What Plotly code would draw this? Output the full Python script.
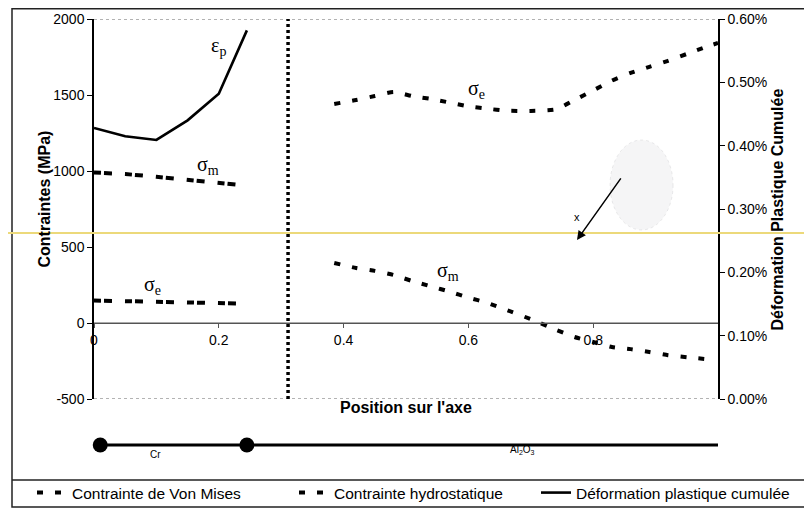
import plotly.graph_objects as go

# positions along the axis (Cr layer and Al2O3 layer)
pos_cr = [0.0, 0.05, 0.10, 0.15, 0.20, 0.245]
pos_al = [0.385, 0.42, 0.45, 0.48, 0.51, 0.54, 0.57, 0.60, 0.63, 0.66, 0.70,
          0.74, 0.77, 0.80, 0.83, 0.86, 0.89, 0.92, 0.95, 0.98, 1.0]

# Von Mises stress (MPa)
von_mises_cr = [148, 145, 142, 138, 133, 127]
von_mises_al = [1441, 1467, 1493, 1520, 1493, 1474, 1450, 1425, 1410, 1397, 1395,
                1405, 1467, 1530, 1595, 1645, 1685, 1725, 1770, 1815, 1842]

# hydrostatic stress (MPa)
hydro_cr = [990, 980, 962, 942, 922, 903]
hydro_al = [395, 362, 343, 316, 276, 241, 206, 167, 133, 88, 25,
            -44, -92, -125, -158, -172, -191, -212, -225, -237, None]

# cumulated plastic strain (fraction)
eps_cr = [0.00428, 0.00415, 0.00409, 0.00440, 0.00482, 0.00582]

# material bar
layer_bounds = [0.01, 0.245, 1.005]
interface_pos = 0.311

# the page body has an 8px margin, so the figure is a bit smaller than the window
OFF = 8
W, H = 812 - OFF, 508 - OFF
ML, MR, MT, MB = 94 - OFF, 94, 19 - OFF, 0


def px_x(px):
    return (px - OFF - ML) / (W - ML - MR)


def px_y(py):
    return (H - MB - (py - OFF)) / (H - MT - MB)


main_bottom = px_y(399)
BLACK = "black"
DASH_AL = "6px,12px"
DASH_CR = "7px,3px,8px,13px"

fig = go.Figure()

fig.add_trace(go.Scatter(x=pos_al, y=von_mises_al, mode="lines", name="Contrainte de Von Mises",
                         line=dict(color=BLACK, width=4, dash=DASH_AL, shape="spline", smoothing=0.5),
                         legend="legend"))
fig.add_trace(go.Scatter(x=pos_cr, y=von_mises_cr, mode="lines", showlegend=False,
                         line=dict(color=BLACK, width=4, dash=DASH_CR)))
fig.add_trace(go.Scatter(x=pos_al, y=hydro_al, mode="lines", name="Contrainte hydrostatique",
                         line=dict(color=BLACK, width=4, dash=DASH_AL, shape="spline", smoothing=0.5),
                         legend="legend2"))
fig.add_trace(go.Scatter(x=pos_cr, y=hydro_cr, mode="lines", showlegend=False,
                         line=dict(color=BLACK, width=4, dash=DASH_CR)))
fig.add_trace(go.Scatter(x=pos_cr, y=eps_cr, mode="lines", name="Déformation plastique cumulée",
                         yaxis="y2", line=dict(color=BLACK, width=2.6), legend="legend3"))

# material bar below the plot
fig.add_trace(go.Scatter(x=layer_bounds, y=[0] * len(layer_bounds), mode="lines+markers",
                         xaxis="x3", yaxis="y3", showlegend=False, cliponaxis=False,
                         line=dict(color=BLACK, width=3), marker=dict(color=BLACK, size=15)))

tick_font = dict(family="Liberation Sans, Arial", size=14, color=BLACK)
title_font = dict(family="Liberation Sans, Arial", size=16, color=BLACK)
greek_font = dict(family="Liberation Serif, Times New Roman", size=20, color=BLACK)
legend_font = dict(family="Liberation Sans, Arial", size=15.5, color=BLACK)

fig.update_layout(
    width=W, height=H,
    margin=dict(l=ML, r=MR, t=MT, b=MB, autoexpand=False),
    paper_bgcolor="white", plot_bgcolor="white",
    xaxis=dict(range=[0, 1], domain=[0, 1], anchor="free", position=px_y(323),
               tickvals=[0, 0.2, 0.4, 0.6, 0.8], ticktext=["0", "0.2", "0.4", "0.6", "0.8"],
               showline=True, linecolor="#555", linewidth=1, ticks="outside", ticklen=4,
               tickcolor="#555", showgrid=False, zeroline=False, tickfont=tick_font),
    yaxis=dict(range=[-500, 2000], domain=[main_bottom, 1], tickvals=[-500, 0, 500, 1000, 1500, 2000],
               ticktext=["-500", "0", "500", "1000", "1500", "2000"],
               showline=True, linecolor=BLACK, linewidth=1.5, ticks="outside", ticklen=5,
               tickcolor=BLACK, showgrid=False, zeroline=False, tickfont=tick_font),
    yaxis2=dict(range=[0, 0.006], overlaying="y", side="right", anchor="x", tickformat=".2%",
                tickvals=[0, 0.001, 0.002, 0.003, 0.004, 0.005, 0.006],
                showline=True, linecolor=BLACK, linewidth=1.5, ticks="outside", ticklen=5,
                tickcolor=BLACK, showgrid=False, zeroline=False, tickfont=tick_font),
    xaxis3=dict(range=[0, 1], domain=[0, 1], anchor="y3", visible=False),
    yaxis3=dict(range=[-1, 1], domain=[px_y(458), px_y(432)], anchor="x3", visible=False),
    legend=dict(x=px_x(32), y=px_y(493), xanchor="left", yanchor="middle",
                orientation="h", bgcolor="rgba(0,0,0,0)", font=legend_font),
    legend2=dict(x=px_x(294), y=px_y(493), xanchor="left", yanchor="middle",
                 orientation="h", bgcolor="rgba(0,0,0,0)", font=legend_font),
    legend3=dict(x=px_x(536), y=px_y(493), xanchor="left", yanchor="middle",
                 orientation="h", bgcolor="rgba(0,0,0,0)", font=legend_font),
)

# zero line, plot area dotted top / bottom borders and interface line
fig.add_shape(type="line", xref="x domain", yref="y", x0=0, x1=1, y0=0, y1=0,
              line=dict(color="#555", width=1))
fig.add_shape(type="line", xref="x domain", yref="y", x0=0, x1=1, y0=2000, y1=2000,
              line=dict(color="#666", width=1, dash="dot"))
fig.add_shape(type="line", xref="x domain", yref="y", x0=0, x1=1, y0=-500, y1=-500,
              line=dict(color="#666", width=1, dash="dot"))
fig.add_shape(type="line", xref="x", yref="y", x0=interface_pos, x1=interface_pos, y0=-500, y1=2000,
              line=dict(color=BLACK, width=3.5, dash="3px,3px"))

# faint grain image and arrow
fig.add_shape(type="circle", xref="x", yref="y", x0=0.827, x1=0.928, y0=612, y1=1204,
              fillcolor="rgba(120,120,130,0.07)", line=dict(color="rgba(120,120,130,0.15)", width=1, dash="dot"),
              layer="below")
fig.add_annotation(x=0.774, y=546, ax=0.846, ay=961, axref="x", ayref="y", xref="x", yref="y",
                   text="", showarrow=True, arrowhead=2, arrowsize=1.2, arrowwidth=1.5, arrowcolor=BLACK)
fig.add_annotation(x=0.774, y=697, xref="x", yref="y", text="x", showarrow=False,
                   font=dict(family="Liberation Sans, Arial", size=11, color=BLACK))

# outer frame, legend separator, scan mark
fig.add_shape(type="rect", xref="paper", yref="paper", x0=px_x(12), x1=px_x(811), y0=px_y(507), y1=px_y(8.8),
              line=dict(color="#222", width=1.5))
fig.add_shape(type="line", xref="paper", yref="paper", x0=px_x(12), x1=px_x(811), y0=px_y(480), y1=px_y(480),
              line=dict(color="#222", width=1.5))
fig.add_shape(type="line", xref="paper", yref="paper", x0=px_x(8), x1=px_x(812), y0=px_y(233), y1=px_y(233),
              line=dict(color="#ecd97a", width=2))

# curve labels
labels = [
    (0.200, 1816, "ε<sub>p</sub>"),
    (0.183, 1039, "σ<sub>m</sub>"),
    (0.093, 250, "σ<sub>e</sub>"),
    (0.613, 1533, "σ<sub>e</sub>"),
    (0.567, 336, "σ<sub>m</sub>"),
]
for lx, ly, txt in labels:
    fig.add_annotation(x=lx, y=ly, xref="x", yref="y", text=txt, showarrow=False, font=greek_font)

# layer labels
fig.add_annotation(x=0.098, y=px_y(462), xref="x3", yref="paper", text="Cr", showarrow=False,
                   font=dict(family="Liberation Sans, Arial", size=10, color=BLACK))
fig.add_annotation(x=0.686, y=px_y(458), xref="x3", yref="paper", text="Al<sub>2</sub>O<sub>3</sub>",
                   showarrow=False, font=dict(family="Liberation Sans, Arial", size=10, color=BLACK))

# axis titles
fig.add_annotation(x=px_x(33), y=px_y(199), xref="paper", yref="paper", text="<b>Contraintes (MPa)</b>",
                   textangle=-90, showarrow=False, font=title_font)
fig.add_annotation(x=px_x(787), y=px_y(210), xref="paper", yref="paper",
                   text="<b>Déformation Plastique Cumulée</b>", textangle=-90, showarrow=False,
                   font=title_font)
fig.add_annotation(x=0.5, y=px_y(418), xref="paper", yref="paper", text="<b>Position sur l'axe</b>",
                   showarrow=False, font=title_font)

fig.write_html("out.html")
